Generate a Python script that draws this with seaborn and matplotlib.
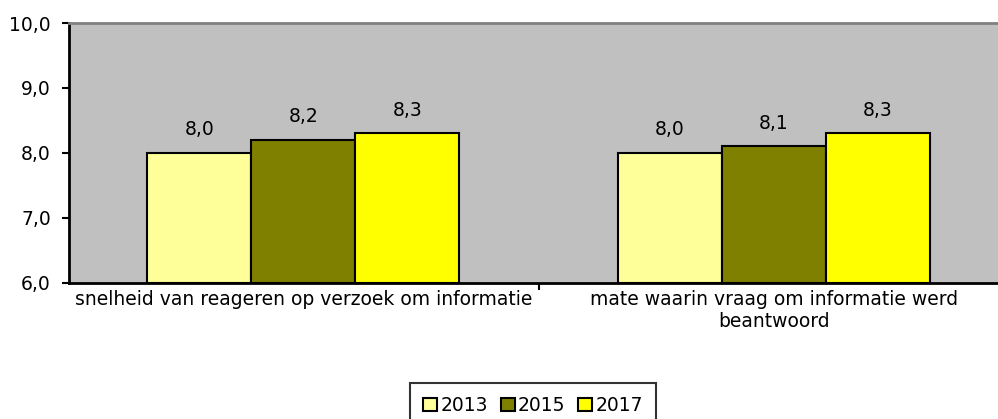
import seaborn as sns
from matplotlib import pyplot as plt
import pandas as pd

categories = ['snelheid van reageren op verzoek om informatie',
              'mate waarin vraag om informatie werd\nbeantwoord']
years = ['2013', '2015', '2017']
values_2013 = [8.0, 8.0]
values_2015 = [8.2, 8.1]
values_2017 = [8.3, 8.3]

colors = ['#FFFF99', '#808000', '#FFFF00']

df = pd.DataFrame({
    'categorie': categories * 3,
    'jaar': [y for y in years for _ in categories],
    'score': values_2013 + values_2015 + values_2017,
})

plt.rcParams['font.family'] = ['Tahoma', 'DejaVu Sans']
fs = 13.5
fig = plt.figure(figsize=(9.98, 4.19), dpi=100)
ax = fig.add_axes([0.069, 0.325, 0.931, 0.62])

sns.barplot(data=df, x='categorie', y='score', hue='jaar', palette=colors,
            width=0.663, edgecolor='black', linewidth=1.5, ax=ax, saturation=1)

# bars start at 6.0, so draw them from the bottom of the axis
for p in ax.patches:
    if p.get_height() > 0:
        h = p.get_height()
        p.set_y(6.0)
        p.set_height(h - 6.0)

for cont in ax.containers:
    ax.bar_label(cont, labels=[f'{6.0 + b.get_height():.1f}'.replace('.', ',') for b in cont],
                 padding=10, fontsize=fs)

ax.set_ylim(6, 10)
ax.set_xlim(-0.498, 1.476)
ax.set_yticks([6, 7, 8, 9, 10])
ax.set_yticklabels(['6,0', '7,0', '8,0', '9,0', '10,0'], fontsize=fs)
ax.set_xticks([0.5], minor=True)
ax.set_xticks([0, 1])
ax.set_xticklabels(categories, fontsize=fs)
ax.tick_params(axis='x', which='major', length=0, pad=5)
ax.tick_params(axis='x', which='minor', length=5, width=1.5)
ax.tick_params(axis='y', length=5, width=1.5, direction='out', pad=8)
ax.set_xlabel('')
ax.set_ylabel('')

ax.set_facecolor('#C0C0C0')
ax.spines['left'].set_linewidth(2)
ax.spines['bottom'].set_linewidth(2)
ax.spines['top'].set_color('#808080')
ax.spines['top'].set_linewidth(2)
ax.spines['right'].set_visible(False)

handles, labels = ax.get_legend_handles_labels()
for h in handles:
    h.set_edgecolor('black')
    h.set_linewidth(1.5)
ax.get_legend().remove()
leg = fig.legend(handles, labels, loc='upper center', bbox_to_anchor=(533 / 998, 1 - 383 / 419),
                 ncol=3, frameon=True, fancybox=False, fontsize=fs, borderaxespad=0,
                 handlelength=0.75, handleheight=0.75, handletextpad=0.15,
                 columnspacing=0.7, borderpad=0.7)
leg.get_frame().set_edgecolor('black')
leg.get_frame().set_linewidth(1.5)

fig.savefig('out.png', dpi=100)
